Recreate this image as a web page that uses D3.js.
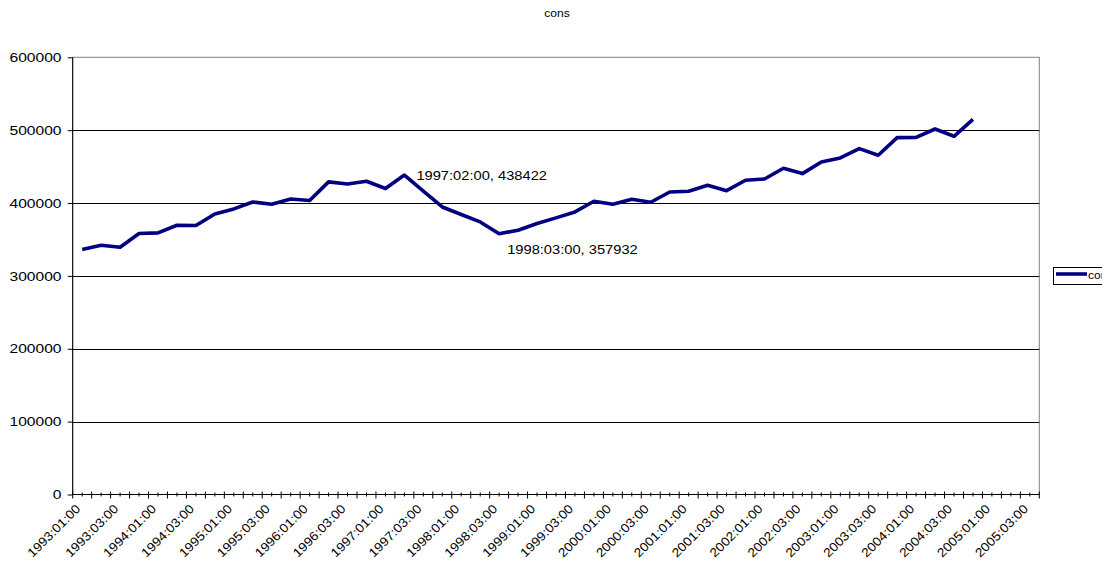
<!DOCTYPE html>
<html>
<head>
<meta charset="utf-8">
<script src="https://cdn.jsdelivr.net/npm/d3@7/dist/d3.min.js"></script>
<style>
  html, body { margin: 0; padding: 0; background: #fff; }
  svg { display: block; }
  text { font-family: "Liberation Sans", Arial, sans-serif; fill: #000; }
</style>
</head>
<body>
<svg id="chart" width="1113" height="567"></svg>
<script>
// ---- data ----
const title = "cons";
const seriesName = "cons";
const categories = [
  "1993:01:00","1993:02:00","1993:03:00","1993:04:00",
  "1994:01:00","1994:02:00","1994:03:00","1994:04:00",
  "1995:01:00","1995:02:00","1995:03:00","1995:04:00",
  "1996:01:00","1996:02:00","1996:03:00","1996:04:00",
  "1997:01:00","1997:02:00","1997:03:00","1997:04:00",
  "1998:01:00","1998:02:00","1998:03:00","1998:04:00",
  "1999:01:00","1999:02:00","1999:03:00","1999:04:00",
  "2000:01:00","2000:02:00","2000:03:00","2000:04:00",
  "2001:01:00","2001:02:00","2001:03:00","2001:04:00",
  "2002:01:00","2002:02:00","2002:03:00","2002:04:00",
  "2003:01:00","2003:02:00","2003:03:00","2003:04:00",
  "2004:01:00","2004:02:00","2004:03:00","2004:04:00",
  "2005:01:00","2005:02:00","2005:03:00"
];
const values = [
  336200, 342100, 339400, 358100, 359000, 369500, 369100, 385000,
  391900, 401500, 398300, 405600, 403400, 429000, 426200, 429900,
  419900, 438422, 416200, 394600, 384200, 374100, 357932, 362700,
  371900, 379600, 387800, 402500, 398300, 405200, 401100, 415200,
  416200, 424400, 417000, 431300, 433000, 447700, 440400, 456400,
  461900, 474700, 465600, 489800, 490000, 501600, 491600, 514900
];
const xTickLabels = categories.filter((d, i) => i % 2 === 0);
const yTicks = [0, 100000, 200000, 300000, 400000, 500000, 600000];
const labelledPoints = [17, 22];

// ---- layout ----
const plot = { left: 72.7, right: 1039.3, top: 57.3, bottom: 494.5 };
const stretch = 1.2;

const svg = d3.select("#chart");
svg.append("rect").attr("width", 1113).attr("height", 567).attr("fill", "#fff");
svg.append("defs").append("clipPath").attr("id", "imgclip")
  .append("rect").attr("x", 0).attr("y", 0).attr("width", 1102).attr("height", 567);

const x = d3.scaleBand().domain(categories).range([plot.left, plot.right]).padding(0);
const bw = x.bandwidth();
const cx = c => x(c) + bw / 2;
const y = d3.scaleLinear().domain([0, 600000]).range([plot.bottom, plot.top]);

// plot area border (gray)
svg.append("rect")
  .attr("x", plot.left).attr("y", plot.top)
  .attr("width", plot.right - plot.left).attr("height", plot.bottom - plot.top)
  .attr("fill", "none").attr("stroke", "#808080").attr("stroke-width", 1);

// gridlines
svg.append("g").selectAll("line").data(yTicks.filter(d => d > 0 && d < 600000)).join("line")
  .attr("x1", plot.left).attr("x2", plot.right)
  .attr("y1", d => Math.round(y(d)) + 0.5).attr("y2", d => Math.round(y(d)) + 0.5)
  .attr("stroke", "#000").attr("stroke-width", 1);

// y axis
const yAxis = d3.axisLeft(y).tickValues(yTicks).tickSize(5).tickFormat("");
const gy = svg.append("g").attr("transform", `translate(${plot.left},0)`).call(yAxis);
gy.selectAll("line,path").attr("stroke", "#000");
gy.select(".domain").remove();
svg.append("line").attr("x1", plot.left).attr("x2", plot.left)
  .attr("y1", plot.top).attr("y2", plot.bottom).attr("stroke", "#000");
svg.append("g").selectAll("text").data(yTicks).join("text")
  .attr("transform", d => `translate(61.5,${y(d)}) scale(${stretch},1)`)
  .attr("text-anchor", "end").attr("dy", "0.36em")
  .attr("font-size", 13).text(d => d);

// x axis: major ticks at category boundaries, minor at centers
svg.append("line").attr("x1", plot.left).attr("x2", plot.right)
  .attr("y1", plot.bottom).attr("y2", plot.bottom).attr("stroke", "#000");
const boundaries = categories.map(c => x(c)).concat([plot.right]);
svg.append("g").selectAll("line").data(boundaries).join("line")
  .attr("x1", d => d).attr("x2", d => d)
  .attr("y1", plot.bottom - 3).attr("y2", plot.bottom + 4)
  .attr("stroke", "#000");
svg.append("g").selectAll("line").data(categories).join("line")
  .attr("x1", d => cx(d)).attr("x2", d => cx(d))
  .attr("y1", plot.bottom - 2).attr("y2", plot.bottom + 2)
  .attr("stroke", "#000");
svg.append("g").selectAll("text").data(xTickLabels).join("text")
  .attr("transform", d => `translate(${cx(d) - 1},${plot.bottom + 15}) rotate(-45) scale(1.1,1)`)
  .attr("text-anchor", "end")
  .attr("font-size", 12.5).text(d => d);

// line
const line = d3.line().x((d, i) => cx(categories[i])).y(d => y(d));
svg.append("path").datum(values)
  .attr("d", line).attr("fill", "none")
  .attr("stroke", "#000080").attr("stroke-width", 3.6)
  .attr("stroke-linejoin", "round");

// data labels
const labelOffsets = { 17: [12, 5], 22: [8, 20] };
svg.append("g").selectAll("text").data(labelledPoints).join("text")
  .attr("transform", i => `translate(${cx(categories[i]) + labelOffsets[i][0]},${y(values[i]) + labelOffsets[i][1]}) scale(1.13,1)`)
  .attr("font-size", 13)
  .text(i => `${categories[i]}, ${values[i]}`);

// title
svg.append("text")
  .attr("transform", `translate(557,17) scale(${stretch},1)`)
  .attr("text-anchor", "middle").attr("font-size", 10).text(title);

// legend (clipped at the image's right edge like the reference)
const lg = svg.append("g").attr("clip-path", "url(#imgclip)");
lg.append("rect").attr("x", 1053.5).attr("y", 267.5).attr("width", 90).attr("height", 17)
  .attr("fill", "#fff").attr("stroke", "#000");
lg.append("line").attr("x1", 1056).attr("x2", 1087).attr("y1", 274).attr("y2", 274)
  .attr("stroke", "#000080").attr("stroke-width", 3.6);
lg.append("text").attr("transform", `translate(1088,279) scale(${stretch},1)`)
  .attr("font-size", 10).text(seriesName);
</script>
</body>
</html>
